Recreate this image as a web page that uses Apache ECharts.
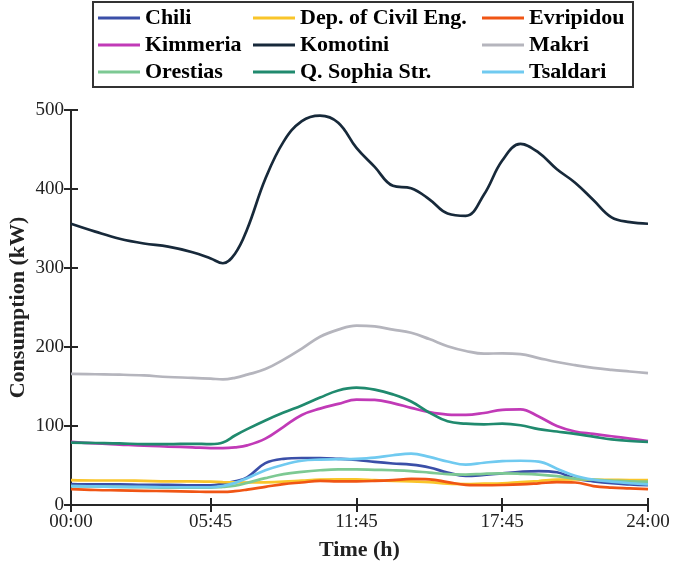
<!DOCTYPE html>
<html>
<head>
<meta charset="utf-8">
<script src="https://cdn.jsdelivr.net/npm/echarts@6/dist/echarts.min.js"></script>
<style>
  html, body { margin: 0; padding: 0; background: #fff; }
  #main { width: 673px; height: 566px; }
</style>
</head>
<body>
<div id="main"></div>
<script>
// quarter-hour index (0..95) of each sample
var steps = [0, 4, 8, 12, 16, 20, 23, 25, 27, 29, 32, 35, 38, 41, 44, 47, 50, 53, 56, 59, 62, 65, 68, 71, 74, 77, 80, 83, 86, 89, 92, 95];

var tickSteps = [0, 23, 47, 71, 95];
var tickLabels = ['00:00', '05:45', '11:45', '17:45', '24:00'];

var chili = [26.5, 26, 26, 25.5, 25.5, 25, 25, 27, 30, 35, 53, 58.5, 59.5, 59.5, 58.5, 57, 54.5, 52.5, 51, 47.5, 41, 36.7, 38, 40, 42, 43, 41.5, 33.5, 30, 27.5, 26, 25];
var depCivil = [31.5, 31, 31, 30.5, 30, 30, 29.5, 29, 28.7, 28.5, 28.7, 29.5, 30.8, 32, 32.5, 32.5, 31.5, 30.5, 29.8, 29, 27, 26.5, 27, 27.5, 29, 30.4, 32, 32.5, 32, 31.8, 31.6, 31.6];
var evripidou = [20, 19, 18.5, 18, 17.5, 17, 16.5, 16.5, 17.5, 19.5, 23, 26.5, 28.5, 30.5, 30, 30, 30.5, 31.5, 33, 32.5, 29, 25.5, 25, 25.3, 26, 27.4, 29, 28.5, 24, 22, 21, 20];
var kimmeria = [80, 78, 76.5, 75, 74, 73, 72, 72, 73, 75.5, 84, 99, 114, 122, 128, 133.5, 133, 129, 123, 117.5, 114.5, 114, 116.5, 120.5, 121, 112, 100, 93, 90, 87, 84, 81];
var komotini = [356, 346, 337, 331, 327, 320, 312, 306, 318, 349, 413, 460, 486, 493, 484, 452, 428, 404, 401, 387, 369, 366, 393, 436, 457, 446, 425, 408, 386, 364, 358, 356];
var makri = [166, 165.5, 165, 164, 162, 161, 160, 159, 161, 165, 172, 184, 198, 213, 222, 227, 226, 222, 218, 210, 201, 195, 191.5, 192, 191, 186, 181, 177, 173.5, 171, 169, 167];
var orestias = [24, 23.5, 23, 22.5, 22, 22, 22, 23, 24.5, 28, 34, 39, 42, 44, 45, 45, 44.5, 44, 43, 41, 39, 38.5, 39.5, 40, 39.5, 38.5, 36.5, 33.5, 32, 31, 30, 29.5];
var qSophia = [79, 78.5, 78, 77, 77, 77.5, 77, 79, 88, 96, 107, 117, 126, 136, 145, 148.5, 146, 140, 131, 117, 106, 103, 102, 103, 101, 96, 93, 90, 86.5, 83, 81, 80];
var tsaldari = [24, 23.5, 23, 23, 22.5, 22.5, 22.5, 24, 28, 34, 44, 51, 56, 57.5, 58, 58.5, 60, 63, 65, 61, 55, 51, 53.5, 55.5, 56, 55, 46, 37, 32, 29.5, 27.5, 26];

var names = ['Chili', 'Dep. of Civil Eng.', 'Evripidou', 'Kimmeria', 'Komotini', 'Makri', 'Orestias', 'Q. Sophia Str.', 'Tsaldari'];
var values = [chili, depCivil, evripidou, kimmeria, komotini, makri, orestias, qSophia, tsaldari];
var colors = ['#3b4fa8', '#f9c52a', '#f05514', '#c13ab7', '#17293a', '#b5b5bd', '#7dc993', '#208a6e', '#70caf0'];

var font = '"Liberation Serif", "Times New Roman", serif';
var axisColor = '#262626';

function pairs(arr) {
    return steps.map(function (s, i) { return [s, arr[i]]; });
}

var series = names.map(function (n, k) {
    return {
        name: n,
        type: 'line',
        smooth: 0.4,
        showSymbol: false,
        data: pairs(values[k]),
        lineStyle: { width: 2.7, color: colors[k] },
        itemStyle: { color: colors[k] }
    };
});

function legendCol(left, items) {
    return {
        orient: 'vertical',
        left: left,
        top: 7,
        padding: 0,
        itemGap: 5,
        itemWidth: 42,
        itemHeight: 3,
        icon: 'rect',
        data: items,
        textStyle: { fontFamily: font, fontWeight: 'bold', fontSize: 22, color: '#000', lineHeight: 22 }
    };
}

var xFormatter = function (v) {
    var i = tickSteps.indexOf(Math.round(v));
    return i >= 0 ? tickLabels[i] : '';
};

var myChart = echarts.init(document.getElementById('main'));
myChart.setOption({
    animation: false,
    color: colors,
    grid: { left: 71, right: 25, top: 110, bottom: 61, outerBoundsMode: 'none', containLabel: false },
    legend: [
        legendCol(98, ['Chili', 'Kimmeria', 'Orestias']),
        legendCol(253, ['Dep. of Civil Eng.', 'Komotini', 'Q. Sophia Str.']),
        legendCol(482, ['Evripidou', 'Makri', 'Tsaldari'])
    ],
    graphic: [{
        type: 'rect',
        shape: { x: 93, y: 2, width: 540, height: 85 },
        style: { fill: 'none', stroke: '#333', lineWidth: 2 },
        silent: true
    }],
    xAxis: [{
        type: 'value',
        min: 0,
        max: 95,
        name: 'Time (h)',
        nameLocation: 'middle',
        nameGap: 34,
        nameMoveOverlap: false,
        nameTextStyle: { fontFamily: font, fontWeight: 'bold', fontSize: 22, color: '#222' },
        axisLine: { lineStyle: { color: axisColor, width: 2 } },
        axisTick: { inside: true, length: 7, lineStyle: { width: 2 }, customValues: tickSteps },
        axisLabel: { customValues: tickSteps, formatter: xFormatter, fontFamily: font, fontSize: 19, color: '#222', margin: 8 },
        splitLine: { show: false }
    }, {
        type: 'value',
        position: 'top',
        min: 0,
        max: 95,
        axisLine: { show: true, lineStyle: { color: axisColor, width: 2 } },
        axisTick: { inside: true, length: 7, lineStyle: { width: 2 }, customValues: tickSteps },
        axisLabel: { show: false },
        splitLine: { show: false }
    }],
    yAxis: [{
        type: 'value',
        min: 0,
        max: 500,
        interval: 100,
        name: 'Consumption (kW)',
        nameLocation: 'middle',
        nameGap: 42,
        nameMoveOverlap: false,
        nameTextStyle: { fontFamily: font, fontWeight: 'bold', fontSize: 22, color: '#222' },
        axisLine: { show: true, lineStyle: { color: axisColor, width: 2 } },
        axisTick: { show: true, inside: true, length: 7, lineStyle: { width: 2 } },
        axisLabel: { fontFamily: font, fontSize: 19, color: '#222', margin: 7 },
        splitLine: { show: false }
    }, {
        type: 'value',
        position: 'right',
        min: 0,
        max: 500,
        interval: 100,
        axisLine: { show: true, lineStyle: { color: axisColor, width: 2 } },
        axisTick: { show: true, inside: true, length: 7, lineStyle: { width: 2 } },
        axisLabel: { show: false },
        splitLine: { show: false }
    }],
    series: series
});
</script>
</body>
</html>
